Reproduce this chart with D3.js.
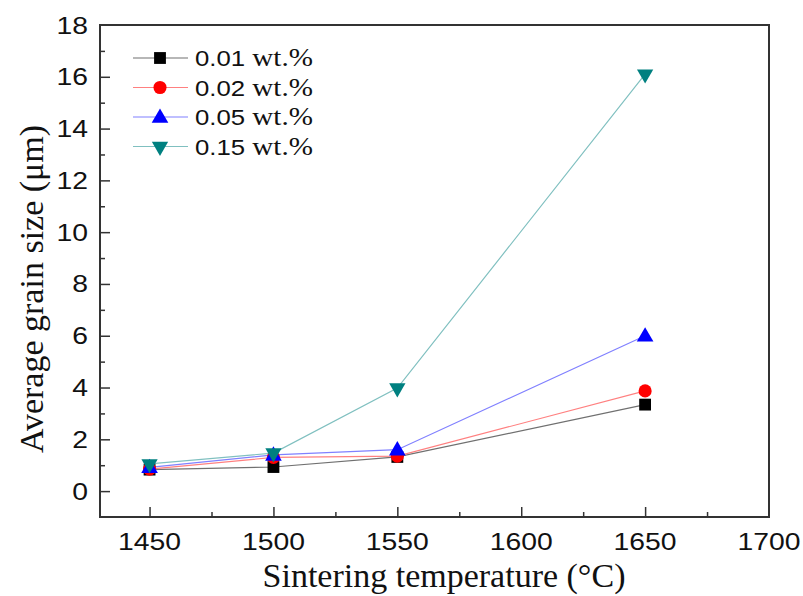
<!DOCTYPE html>
<html>
<head>
<meta charset="utf-8">
<script src="https://cdn.jsdelivr.net/npm/d3@7"></script>
<style>
  body { margin: 0; background: #fff; }
</style>
</head>
<body>
<div id="chart"></div>
<script>
// data
var temps = [1450, 1500, 1550, 1650]
var seriesNums = ["0.01", "0.02", "0.05", "0.15"]
var seriesUnit = "wt.%"
var grain001 = [0.83, 0.93, 1.32, 3.34]
var grain002 = [0.85, 1.30, 1.35, 3.87]
var grain005 = [0.92, 1.40, 1.60, 6.00]
var grain015 = [1.05, 1.47, 3.98, 16.10]
var xTicks = [1450, 1500, 1550, 1600, 1650, 1700]
var yTicks = [0, 2, 4, 6, 8, 10, 12, 14, 16, 18]

var lineColors = ["#707070", "#ff8080", "#8080ff", "#80c0c0"]
var markColors = ["#000000", "#ff0000", "#0000ff", "#008080"]
var shapes = [d3.symbolSquare, d3.symbolCircle, d3.symbolTriangle, "down"]
var allSeries = [grain001, grain002, grain005, grain015]

var width = 803, height = 596
var margin = { left: 100, right: 34, top: 25, bottom: 79 }
var sansFont = "Liberation Sans, Arial, sans-serif"
var serifFont = "Liberation Serif, Times New Roman, serif"

var svg = d3.select("#chart").append("svg")
  .attr("width", width)
  .attr("height", height)

var x = d3.scaleLinear().domain([1430, 1700]).range([margin.left, width - margin.right])
var y = d3.scaleLinear().domain([-1, 18]).range([height - margin.bottom, margin.top])

// frame
svg.append("rect")
  .attr("x", x(1430)).attr("y", y(18))
  .attr("width", x(1700) - x(1430)).attr("height", y(-1) - y(18))
  .attr("fill", "none").attr("stroke", "#333").attr("stroke-width", 2)

// x axis: ticks inside, minor every 25
var xAxis = svg.append("g").attr("transform", "translate(0," + y(-1) + ")")
xAxis.call(d3.axisBottom(x).tickValues(d3.range(1450, 1700, 25)).tickSize(-10).tickFormat(""))
xAxis.selectAll(".tick line")
  .attr("y2", function(d) { return d % 50 === 0 ? -10 : -5 })
  .attr("stroke", "#333").attr("stroke-width", 1.5)
xAxis.select(".domain").remove()
xAxis.selectAll(".tick text").remove()
// labels are a bit wide in the picture, so stretch them
svg.selectAll(".xlab").data(xTicks).enter().append("text")
  .attr("transform", function(d) { return "translate(" + x(d) + "," + (y(-1) + 33) + ") scale(1.18,1)" })
  .attr("text-anchor", "middle")
  .style("font-family", sansFont)
  .style("font-size", "24px")
  .attr("fill", "#111")
  .text(function(d) { return d })

// y axis
var yAxis = svg.append("g").attr("transform", "translate(" + x(1430) + ",0)")
yAxis.call(d3.axisLeft(y).tickValues(d3.range(0, 18, 1)).tickSize(-10).tickFormat(""))
yAxis.selectAll(".tick line")
  .attr("x2", function(d) { return d % 2 === 0 ? 10 : 5 })
  .attr("stroke", "#333").attr("stroke-width", 1.5)
yAxis.select(".domain").remove()
svg.selectAll(".ylab").data(yTicks).enter().append("text")
  .attr("transform", function(d) { return "translate(" + (x(1430) - 12) + "," + (y(d) + 8.5) + ") scale(1.18,1)" })
  .attr("text-anchor", "end")
  .style("font-family", sansFont)
  .style("font-size", "24px")
  .attr("fill", "#111")
  .text(function(d) { return d })

// axis titles
svg.append("text")
  .attr("x", 444)
  .attr("y", 587)
  .attr("text-anchor", "middle")
  .style("font-family", serifFont)
  .style("font-size", "34px")
  .attr("fill", "#111")
  .text("Sintering temperature (°C)")

svg.append("text")
  .attr("transform", "translate(43,289) rotate(-90)")
  .attr("text-anchor", "middle")
  .style("font-family", serifFont)
  .style("font-size", "34px")
  .attr("fill", "#111")
  .text("Average grain size (μm)")

function drawMark(g, i, cx, cy) {
  if (shapes[i] === "down") {
    g.append("path")
      .attr("d", d3.symbol().type(d3.symbolTriangle).size(115)())
      .attr("transform", "translate(" + cx + "," + cy + ") rotate(180)")
      .attr("fill", markColors[i])
  } else {
    var sz = i === 0 ? 140 : i === 1 ? 135 : 120
    g.append("path")
      .attr("d", d3.symbol().type(shapes[i]).size(sz)())
      .attr("transform", "translate(" + cx + "," + (i === 2 ? cy + 1 : cy) + ")")
      .attr("fill", markColors[i])
  }
}

var line = d3.line()
  .x(function(d, i) { return x(temps[i]) })
  .y(function(d) { return y(d) })

allSeries.forEach(function(vals, i) {
  svg.append("path")
    .datum(vals)
    .attr("d", line)
    .attr("fill", "none")
    .attr("stroke", lineColors[i])
    .attr("stroke-width", 1.2)
})
allSeries.forEach(function(vals, i) {
  var g = svg.append("g")
  vals.forEach(function(v, j) { drawMark(g, i, x(temps[j]), y(v)) })
})

// legend
var legend = svg.append("g")
seriesNums.forEach(function(num, i) {
  var ly = 58 + i * 29.5
  legend.append("line")
    .attr("x1", 133).attr("x2", 188)
    .attr("y1", ly).attr("y2", ly)
    .attr("stroke", lineColors[i]).attr("stroke-width", 1.2)
  drawMark(legend, i, 160, ly)
  var t = legend.append("text")
    .attr("transform", "translate(195," + (ly + 8) + ") scale(1.12,1)")
    .attr("fill", "#111")
  t.append("tspan")
    .style("font-family", sansFont)
    .style("font-size", "23px")
    .text(num + " ")
  t.append("tspan")
    .style("font-family", serifFont)
    .style("font-size", "26px")
    .text(seriesUnit)
})
</script>
</body>
</html>
